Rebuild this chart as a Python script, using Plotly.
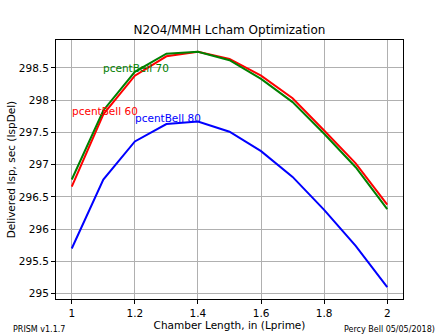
import plotly.graph_objects as go

x_len = [1.0, 1.1, 1.2, 1.3, 1.4, 1.5, 1.6, 1.7, 1.8, 1.9, 2.0]
isp_60 = [296.66, 297.78, 298.38, 298.68, 298.75, 298.64, 298.38, 298.03, 297.53, 297.02, 296.38]
isp_70 = [296.77, 297.84, 298.44, 298.72, 298.75, 298.62, 298.33, 297.97, 297.48, 296.96, 296.31]
isp_80 = [295.70, 296.77, 297.36, 297.63, 297.67, 297.51, 297.21, 296.81, 296.30, 295.74, 295.10]

series = [
    ("pcentBell 60", isp_60, "#ff0000", 1.0, 297.83),
    ("pcentBell 70", isp_70, "#008000", 1.1, 298.5),
    ("pcentBell 80", isp_80, "#0000ff", 1.2, 297.72),
]

x_ticks = [1, 1.2, 1.4, 1.6, 1.8, 2]
x_tick_labels = ["1", "1.2", "1.4", "1.6", "1.8", "2"]
y_ticks = [295, 295.5, 296, 296.5, 297, 297.5, 298, 298.5]
y_tick_labels = ["295", "295.5", "296", "296.5", "297", "297.5", "298", "298.5"]

fig = go.Figure()
annotations = []
for name, vals, color, lx, ly in series:
    fig.add_trace(go.Scatter(x=x_len, y=vals, mode="lines", name=name,
                             line=dict(color=color, width=2)))
    annotations.append(dict(x=lx, y=ly, xref="x", yref="y", text=name, showarrow=False,
                            xanchor="left", yanchor="middle", xshift=-2,
                            font=dict(color=color, size=10.5, family="DejaVu Sans")))

annotations.append(dict(x=-45/347, y=-37/259 + 0.5/259, xref="paper", yref="paper",
                        text="PRISM v1.1.7", showarrow=False, xanchor="left", yanchor="bottom",
                        font=dict(size=8, family="DejaVu Sans", color="#000")))
annotations.append(dict(x=1 + 34/347, y=-37/259 + 0.5/259, xref="paper", yref="paper",
                        text="Percy Bell 05/05/2018)", showarrow=False,
                        xanchor="right", yanchor="bottom",
                        font=dict(size=8, family="DejaVu Sans", color="#000")))

axis_common = dict(showline=True, linecolor="#000", linewidth=1, mirror=True,
                   ticks="outside", ticklen=4, tickcolor="#000", automargin=False,
                   showgrid=True, gridcolor="#b0b0b0", gridwidth=1, zeroline=False,
                   tickfont=dict(size=10.5, family="DejaVu Sans", color="#000"))

fig.update_layout(
    width=448, height=336,
    margin=dict(l=56, r=45, t=40, b=37),
    paper_bgcolor="white", plot_bgcolor="white",
    showlegend=False,
    title=dict(text="N2O4/MMH Lcham Optimization", x=229.5/448, xanchor="center",
               y=1 - 30/336, yanchor="middle",
               font=dict(size=12, family="DejaVu Sans", color="#000")),
    xaxis=dict(range=[0.95, 2.05], tickvals=x_ticks, ticktext=x_tick_labels,
               title=dict(text="Chamber Length, in (Lprime)", standoff=1,
                          font=dict(size=10.5, family="DejaVu Sans", color="#000")),
               **axis_common),
    yaxis=dict(range=[294.9175, 298.9325], tickvals=y_ticks, ticktext=y_tick_labels,
               title=dict(text="Delivered Isp, sec (IspDel)", standoff=1,
                          font=dict(size=10.5, family="DejaVu Sans", color="#000")),
               **axis_common),
    annotations=annotations,
)

fig.write_html("out.html")
